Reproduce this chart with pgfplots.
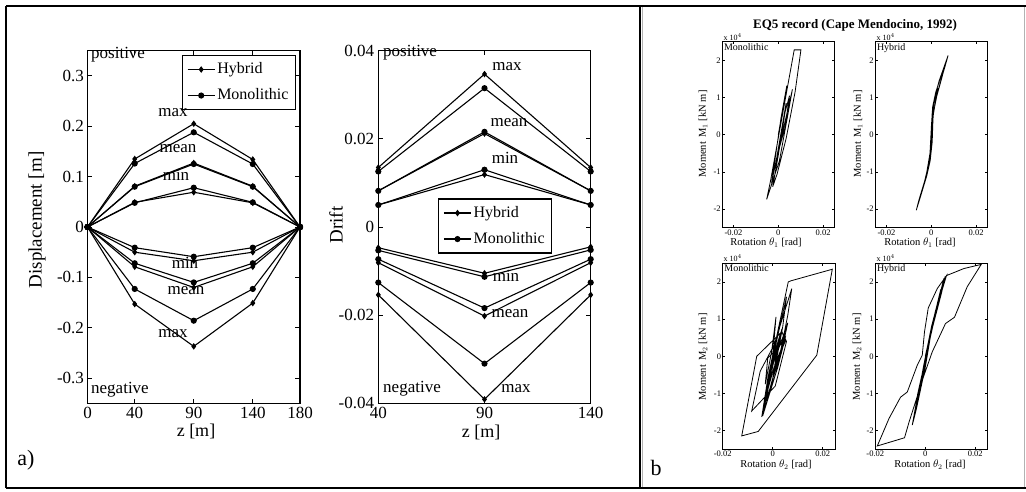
\documentclass[border=0pt]{standalone}
\usepackage{fontspec}
\setmainfont{Liberation Serif}
\usepackage{pgfplots}
\pgfplotsset{compat=1.18}
\newcommand{\fs}[1]{\fontsize{#1}{#1}\selectfont}
\pgfplotsset{
  hyb/.style={black, line width=1.1pt, mark=diamond*, mark size=2.4pt, mark options={solid}},
  mono/.style={black, line width=1.1pt, mark=*, mark size=2.5pt, mark options={solid}},
  pa/.style={scale only axis, anchor=south west, clip=false, scaled ticks=false,
    tick align=inside, major tick length=4.5pt, tick style={black, line width=0.8pt},
    axis line style={line width=1.3pt},
    ticklabel style={font=\fs{17}},
    legend style={draw=black, line width=1.2pt, fill=white, font=\fs{16},
      row sep=8pt, inner xsep=5pt, inner ysep=5pt,
      nodes={inner sep=2pt, text height=11pt, text depth=3pt}},
    legend cell align=left,
    legend image code/.code={\draw[mark repeat=2,mark phase=2,#1] plot coordinates {(0pt,0pt) (13.5pt,0pt) (27pt,0pt)};}
  },
  pb/.style={scale only axis, anchor=south west, width=112pt, height=186pt, scaled ticks=false,
    ymin=-2.5, ymax=2.5, ytick={-2,-1,0,1,2}, yticklabels={-2,-1,0,1,2},
    xtick={-0.02,0,0.02}, xticklabels={-0.02,0,0.02},
    tick align=inside, major tick length=2.5pt, tick style={black, line width=0.6pt},
    axis line style={line width=1.4pt},
    ticklabel style={font=\fs{8.5}, inner sep=1.5pt}},
  cv/.style={black, line width=0.8pt, no marks}
}
\begin{document}
\begin{tikzpicture}[x=1pt,y=1pt]
\useasboundingbox (0,0) rectangle (1026,491);
% frames
\draw[line width=2pt] (6,485) -- (1026,485);
\draw[line width=2pt] (6,3) -- (1026,3);
\draw[line width=2pt] (6,3) -- (6,485);
\draw[line width=2pt] (639.5,3) -- (639.5,485);
\draw[gray!60, line width=0.8pt] (642,4) -- (642,484);
\draw[gray!60, line width=0.8pt] (1024.5,4) -- (1024.5,484);

% ---------- Panel a, left: displacement ----------
\begin{axis}[pa, at={(87.5pt,87.7pt)}, width=212.5pt, height=352.6pt,
  xmin=0, xmax=180, ymin=-0.35, ymax=0.35,
  xtick={0,40,90,140,180}, xticklabels={0,40,90,140,180},
  ytick={-0.3,-0.2,-0.1,0,0.1,0.2,0.3}, yticklabels={-0.3,-0.2,-0.1,0,0.1,0.2,0.3},
  legend style={at={(0.981,0.988)}, anchor=north east}]
\addplot[hyb] coordinates {(0,0) (40,0.135) (90,0.205) (140,0.134) (180,0)};
\addplot[mono] coordinates {(0,0) (40,0.126) (90,0.188) (140,0.125) (180,0)};
\addplot[hyb] coordinates {(0,0) (40,0.081) (90,0.127) (140,0.081) (180,0)};
\addplot[mono] coordinates {(0,0) (40,0.080) (90,0.125) (140,0.080) (180,0)};
\addplot[hyb] coordinates {(0,0) (40,0.049) (90,0.069) (140,0.048) (180,0)};
\addplot[mono] coordinates {(0,0) (40,0.048) (90,0.078) (140,0.049) (180,0)};
\addplot[hyb] coordinates {(0,0) (40,-0.050) (90,-0.067) (140,-0.050) (180,0)};
\addplot[mono] coordinates {(0,0) (40,-0.041) (90,-0.059) (140,-0.041) (180,0)};
\addplot[mono] coordinates {(0,0) (40,-0.072) (90,-0.110) (140,-0.072) (180,0)};
\addplot[hyb] coordinates {(0,0) (40,-0.079) (90,-0.120) (140,-0.079) (180,0)};
\addplot[mono] coordinates {(0,0) (40,-0.123) (90,-0.186) (140,-0.123) (180,0)};
\addplot[hyb] coordinates {(0,0) (40,-0.153) (90,-0.237) (140,-0.151) (180,0)};
\legend{Hybrid, Monolithic}
\end{axis}

% ---------- Panel a, right: drift ----------
\begin{axis}[pa, at={(378.3pt,87.7pt)}, width=212.4pt, height=352.6pt,
  xmin=40, xmax=140, ymin=-0.04, ymax=0.04,
  xtick={40,90,140}, xticklabels={40,90,140},
  ytick={-0.04,-0.02,0,0.02,0.04}, yticklabels={-0.04,-0.02,0,0.02,0.04},
  yticklabel style={inner xsep=4pt},
  legend style={at={(0.819,0.581)}, anchor=north east}]
\addplot[hyb] coordinates {(40,0.0135) (90,0.0347) (140,0.0135)};
\addplot[mono] coordinates {(40,0.0126) (90,0.0315) (140,0.0126)};
\addplot[hyb] coordinates {(40,0.0082) (90,0.0212) (140,0.0082)};
\addplot[mono] coordinates {(40,0.0082) (90,0.0216) (140,0.0082)};
\addplot[hyb] coordinates {(40,0.0050) (90,0.0119) (140,0.0050)};
\addplot[mono] coordinates {(40,0.0050) (90,0.0130) (140,0.0050)};
\addplot[hyb] coordinates {(40,-0.0047) (90,-0.0105) (140,-0.0045)};
\addplot[mono] coordinates {(40,-0.0053) (90,-0.0113) (140,-0.0052)};
\addplot[mono] coordinates {(40,-0.0073) (90,-0.0184) (140,-0.0073)};
\addplot[hyb] coordinates {(40,-0.0081) (90,-0.0202) (140,-0.0081)};
\addplot[mono] coordinates {(40,-0.0126) (90,-0.0310) (140,-0.0126)};
\addplot[hyb] coordinates {(40,-0.0154) (90,-0.0391) (140,-0.0154)};
\legend{Hybrid, Monolithic}
\end{axis}

% panel a texts
\node[rotate=90, font=\fs{19}] at (37,271) {Displacement [m]};
\node[rotate=90, font=\fs{19}] at (336,266) {Drift};
\node[font=\fs{18}] at (196,60) {z [m]};
\node[font=\fs{18}] at (481,59) {z [m]};
\node[font=\fs{22}] at (26,31) {a)};
\node[font=\fs{22}] at (656,23) {b};
\begin{scope}[every node/.style={font=\fs{17}, inner sep=0pt}]
\node[anchor=west] at (91,436) {positive};
\node at (173,378) {max};
\node at (178,342) {mean};
\node at (176,316) {min};
\node at (185,228) {min};
\node at (186,200) {mean};
\node at (173,157) {max};
\node[anchor=west] at (91,101) {negative};
\node[anchor=west] at (383,438) {positive};
\node at (507,424) {max};
\node at (509,368) {mean};
\node at (505,333) {min};
\node at (506,215) {min};
\node at (510,177) {mean};
\node[anchor=west] at (383,102) {negative};
\node at (516,102) {max};
\end{scope}

% ---------- Panel b ----------
\node[font=\bfseries\fs{13}] at (855,466) {EQ5 record (Cape Mendocino, 1992)};

% top-left: Monolithic M1
\begin{axis}[pb, at={(722.3pt,263.3pt)}, xmin=-0.025, xmax=0.025]
\addplot[cv] coordinates {(0,0) (0.0038,1.32) (0.0012,0.45) (-0.0030,-1.30) (-0.0008,-0.65) (0.0063,1.22) (0.0040,0.45) (0.0005,-0.70) (-0.0052,-1.74) (-0.0035,-1.25) (0.0071,2.28) (0.0101,2.28) (0.0075,1.15) (0.0035,-0.10) (-0.0005,-1.05) (-0.0025,-1.40) (0.0000,-0.55) (0.0030,0.60) (0.0050,1.05) (0.0030,0.2) (0.0005,-0.35) (0.0025,0.45) (0.0010,-0.10) (-0.0015,-0.90) (0.0005,-0.20) (0.0035,0.85)};
\end{axis}
% top-right: Hybrid M1
\begin{axis}[pb, at={(875.3pt,263.3pt)}, xmin=-0.025, xmax=0.025]
\addplot[cv] coordinates {(0,0) (0.0004,0.6) (0.0015,1.0) (0.0035,1.45) (0.0075,2.13) (0.0062,1.85) (0.0040,1.4) (0.0022,1.0) (0.0008,0.5) (0.0004,-0.2) (-0.0005,-0.7) (-0.0020,-1.1) (-0.0045,-1.6) (-0.0067,-2.03) (-0.0055,-1.75) (-0.0030,-1.25) (-0.0012,-0.85) (-0.0004,-0.4) (0,0.2) (0.0006,0.75) (0.0020,1.15) (0.0045,1.6) (0.0060,1.85) (0.0048,1.55) (0.0025,1.05) (0.0010,0.6) (0.0002,0) (-0.0008,-0.7) (-0.0025,-1.2) (-0.0040,-1.5) (-0.0020,-1.0) (-0.0006,-0.5) (0.0001,0.3) (0.0012,0.85) (0.0030,1.25)};
\end{axis}
% bottom-left: Monolithic M2
\begin{axis}[pb, at={(722.7pt,41.7pt)}, width=112.6pt, xmin=-0.02, xmax=0.025]
\addplot[cv] coordinates {(0,0) (0.0013,1.06) (-0.0005,0.10) (-0.0030,-0.75) (-0.0020,-0.05) (0.0030,0.30) (0.0050,0.50) (0.0020,-0.30) (-0.0044,-1.63) (-0.0020,-0.60) (0.0062,2.00) (0.0073,2.03) (0.0238,2.34) (0.0176,0.03) (-0.0058,-2.02) (-0.0124,-2.14) (-0.0064,0.00) (0.0036,0.66) (0.0055,0.40) (0.0010,-0.80) (-0.0084,-1.47) (-0.0050,-0.40) (0.0005,0.30) (0.0076,1.82) (0.0060,1.10) (0.0015,-0.40) (-0.0040,-1.60) (-0.0015,-0.50) (0.0045,0.60) (0.0060,0.90) (0.0035,0.10) (0.0000,-0.60) (0.0020,0.30) (-0.0010,-0.30) (0.0030,0.60) (0.0010,-0.20) (0.0040,0.30) (0.0020,-0.10) (-0.0025,-1.20) (-0.0005,-0.20) (0.0055,1.60) (0.0040,0.80) (-0.0005,-0.80) (-0.0035,-1.45) (-0.0010,-0.40) (0.0035,0.70) (0.0050,0.40) (0.0005,-0.30) (-0.0020,-0.90) (0.0015,0.20) (0.0045,0.55) (0.0030,0.10)};
\end{axis}
% bottom-right: Hybrid M2
\begin{axis}[pb, at={(875.3pt,41.7pt)}, width=112.4pt, xmin=-0.02, xmax=0.025]
\addplot[cv] coordinates {(0,0) (0.0030,0.90) (0.0075,2.10) (0.0060,1.60) (0.0020,0.60) (-0.0010,-0.40) (-0.0040,-1.40) (-0.0052,-1.85) (-0.0040,-1.50) (-0.0010,-0.60) (0.0010,0.20) (0.0040,1.20) (0.0080,2.15) (0.0065,1.70) (0.0030,0.80) (0.0000,-0.10) (-0.0030,-1.00) (-0.0048,-1.75) (-0.0035,-1.40) (0.0000,-0.30) (0.0020,0.50) (0.0050,1.40) (0.0085,2.17) (0.0155,2.36) (0.0224,2.47) (0.0168,1.87) (0.0117,1.05) (0.0081,0.88) (0.0028,0.12) (-0.0005,-0.51) (-0.0045,-1.35) (-0.0065,-1.77) (-0.0083,-2.19) (-0.0192,-2.41) (-0.0145,-1.67) (-0.0099,-1.10) (-0.0072,-0.96) (-0.0032,-0.24) (-0.0012,0.03) (-0.0003,0.66) (0.0012,1.30) (0.0048,1.82) (0.0085,2.17) (0.0055,1.50) (0.0015,0.40) (-0.0020,-0.80) (-0.0045,-1.60) (-0.0025,-1.00) (0.0005,0.00) (0.0035,1.00) (0.0070,1.95) (0.0050,1.45) (0.0025,0.80) (-0.0005,-0.20) (-0.0030,-1.10) (-0.0050,-1.80) (-0.0028,-1.15) (0.0003,-0.05) (0.0028,0.85) (0.0062,1.80) (0.0045,1.30) (0.0012,0.30) (-0.0015,-0.65) (-0.0042,-1.55)};
\end{axis}

% panel b texts
\begin{scope}[every node/.style={font=\fs{10.5}}]
\node[rotate=90] at (703,357) {Moment\, M$_1$ [kN m]};
\node[rotate=90] at (858,357) {Moment\, M$_1$ [kN m]};
\node[rotate=90] at (703,134) {Moment\, M$_2$ [kN m]};
\node[rotate=90] at (857,134) {Moment\, M$_2$ [kN m]};
\node at (766,248.5) {Rotation $\theta_1$ [rad]};
\node at (920,248.5) {Rotation $\theta_1$ [rad]};
\node at (776,26) {Rotation $\theta_2$ [rad]};
\node at (930,26) {Rotation $\theta_2$ [rad]};
\end{scope}
\begin{scope}[every node/.style={font=\fs{8}, inner sep=1pt}]
\node[anchor=south west] at (722.3,449.5) {x 10$^4$};
\node[anchor=south west] at (875.3,449.5) {x 10$^4$};
\node[anchor=south west] at (722.3,228) {x 10$^4$};
\node[anchor=south west] at (875.3,228) {x 10$^4$};
\end{scope}
\begin{scope}[every node/.style={font=\fs{10}, inner sep=1.5pt}]
\node[anchor=north west] at (722.3,449.3) {Monolithic};
\node[anchor=north west] at (875.3,449.3) {Hybrid};
\node[anchor=north west] at (722.7,227.7) {Monolithic};
\node[anchor=north west] at (875.3,227.7) {Hybrid};
\end{scope}
\end{tikzpicture}
\end{document}
